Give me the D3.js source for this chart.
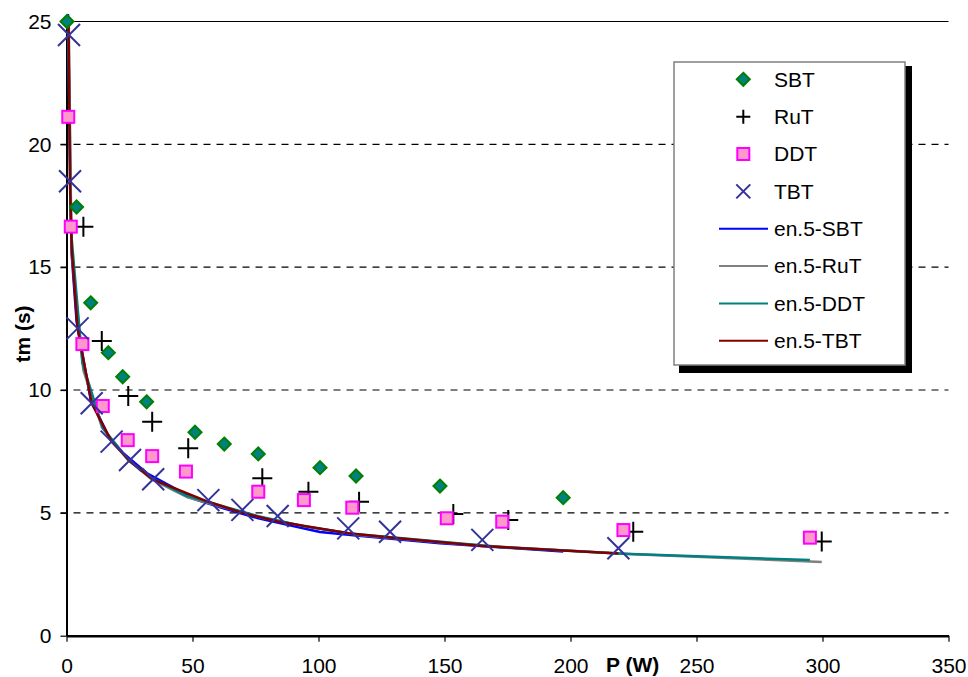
<!DOCTYPE html>
<html><head><meta charset="utf-8">
<script src="https://cdn.jsdelivr.net/npm/d3@7"></script>
<style>
html,body{margin:0;padding:0;background:#fff;}
svg{display:block;font-family:"Liberation Sans",Arial,sans-serif;}
</style></head><body>
<svg id="chart" width="968" height="677"></svg>
<script>
// ---- data ----
const sbtX = [0.2, 4.0, 9.6, 16.6, 22.3, 31.8, 51.0, 62.6, 76.1, 100.6, 114.9, 148.2, 197.1];
const sbtY = [25.0, 17.45, 13.55, 11.52, 10.54, 9.52, 8.28, 7.80, 7.40, 6.84, 6.50, 6.09, 5.62];

const rutX = [6.7, 14.0, 24.5, 34.0, 48.3, 77.7, 96.0, 116.1, 153.5, 175.3, 224.9, 299.7];
const rutY = [16.65, 12.0, 9.76, 8.71, 7.63, 6.41, 5.86, 5.45, 4.95, 4.71, 4.23, 3.83];

const ddtX = [0.7, 1.7, 6.3, 14.4, 24.3, 34.0, 47.4, 76.1, 94.2, 113.4, 150.9, 172.9, 221.0, 295.0];
const ddtY = [21.12, 16.65, 11.87, 9.35, 7.96, 7.31, 6.68, 5.86, 5.52, 5.21, 4.78, 4.64, 4.30, 3.99];

const tbtX = [1.0, 1.4, 4.4, 10.0, 17.9, 25.2, 34.4, 56.3, 69.8, 83.8, 111.8, 128.4, 165.0, 219.0];
const tbtY = [24.45, 18.5, 12.51, 9.46, 7.90, 7.15, 6.37, 5.52, 5.12, 4.87, 4.37, 4.23, 3.90, 3.56];

// model curves "en.5"
const enSbtX = [0.6, 2.0, 4.0, 9.6, 16.6, 22.3, 31.8, 51.0, 62.6, 76.1, 100.6, 114.9, 148.2, 197.1];
const enSbtY = [25.3, 15.6, 12.8, 9.6, 8.15, 7.45, 6.62, 5.55, 5.18, 4.78, 4.22, 4.08, 3.76, 3.43];

const enRutX = [0.9, 2.0, 6.7, 14.0, 24.5, 34.0, 48.3, 77.7, 96.0, 116.1, 153.5, 175.3, 224.9, 299.7];
const enRutY = [25.0, 15.6, 10.8, 8.5, 7.15, 6.35, 5.62, 4.80, 4.42, 4.10, 3.75, 3.60, 3.32, 3.00];

const enDdtX = [0.7, 1.7, 6.3, 14.4, 24.3, 34.0, 47.4, 76.1, 94.2, 113.4, 150.9, 172.9, 221.0, 295.0];
const enDdtY = [24.6, 16.6, 11.1, 8.45, 7.17, 6.40, 5.70, 4.86, 4.46, 4.15, 3.80, 3.60, 3.34, 3.08];

const enTbtX = [0.8, 1.4, 2.1, 4.4, 10.0, 17.9, 25.2, 34.4, 56.3, 69.8, 83.8, 111.8, 128.4, 165.0, 219.0];
const enTbtY = [25.0, 18.3, 15.7, 12.5, 9.45, 7.90, 7.10, 6.35, 5.45, 5.00, 4.65, 4.17, 4.00, 3.65, 3.35];

const xTicks = [0, 50, 100, 150, 200, 250, 300, 350];
const yTicks = [0, 5, 10, 15, 20, 25];
const gridValues = [5, 10, 15, 20];

const xTitle = "P (W)";
const yTitle = "tm (s)";

const scatterSeries = [
  {name: "SBT", xs: sbtX, ys: sbtY, type: "diamond"},
  {name: "RuT", xs: rutX, ys: rutY, type: "plus"},
  {name: "DDT", xs: ddtX, ys: ddtY, type: "square"},
  {name: "TBT", xs: tbtX, ys: tbtY, type: "cross"}
];
const lineSeries = [
  {name: "en.5-SBT", xs: enSbtX, ys: enSbtY, color: "#0000ff"},
  {name: "en.5-RuT", xs: enRutX, ys: enRutY, color: "#808080"},
  {name: "en.5-DDT", xs: enDdtX, ys: enDdtY, color: "#008080"},
  {name: "en.5-TBT", xs: enTbtX, ys: enTbtY, color: "#800000"}
];

// ---- drawing ----
const svg = d3.select("#chart");
const x = d3.scaleLinear().domain([0, 350]).range([66.5, 948.5]);
const y = d3.scaleLinear().domain([0, 25]).range([635.7, 21.5]);

// grid
svg.append("g").selectAll("line").data(gridValues).join("line")
  .attr("x1", x(0) - 6).attr("x2", x(350))
  .attr("y1", d => y(d)).attr("y2", d => y(d))
  .attr("stroke", "#000").attr("stroke-width", 1.2)
  .attr("stroke-dasharray", "7,6");
// top border line
svg.append("line").attr("x1", x(0)).attr("x2", x(350))
  .attr("y1", y(25)).attr("y2", y(25)).attr("stroke", "#000").attr("stroke-width", 1.2);

// axes
const fontSize = 21;
const gx = svg.append("g").attr("transform", `translate(0,${y(0)})`)
  .call(d3.axisBottom(x).tickValues(xTicks).tickSize(6).tickPadding(16).tickSizeOuter(0));
const gy = svg.append("g").attr("transform", `translate(${x(0)},0)`)
  .call(d3.axisLeft(y).tickValues(yTicks).tickSize(6).tickPadding(9).tickSizeOuter(0));
[gx, gy].forEach(g => {
  g.select(".domain").attr("stroke", "#000").attr("stroke-width", 2);
  g.selectAll(".tick line").attr("stroke", "#000").attr("stroke-width", 1.2);
  g.selectAll(".tick text").attr("font-size", fontSize).attr("fill", "#000")
    .attr("font-family", "Liberation Sans, Arial, sans-serif");
});
gx.select(".domain").attr("stroke-width", 2.5);

// axis titles
svg.append("text").attr("x", 606).attr("y", 672)
  .attr("font-size", fontSize).attr("font-weight", "bold").text(xTitle);
svg.append("text").attr("transform", "translate(30,334) rotate(-90)")
  .attr("text-anchor", "middle").attr("font-size", fontSize).attr("font-weight", "bold").text(yTitle);

// model lines
const lineGen = d3.line().x(d => x(d[0])).y(d => y(d[1]));
lineSeries.forEach(s => {
  const pts = s.xs.map((v, i) => [v, s.ys[i]]);
  svg.append("path").datum(pts).attr("d", lineGen)
    .attr("fill", "none").attr("stroke", s.color).attr("stroke-width", 2.5)
    .attr("stroke-linejoin", "round");
});

// markers
function drawMarker(g, type, cx, cy, big) {
  if (type === "diamond") {
    const r = 6.5;
    g.append("path").attr("d", `M${cx},${cy - r}L${cx + r},${cy}L${cx},${cy + r}L${cx - r},${cy}Z`)
      .attr("fill", "#008080").attr("stroke", "#008000").attr("stroke-width", 2);
  } else if (type === "square") {
    const h = 6;
    g.append("rect").attr("x", cx - h).attr("y", cy - h).attr("width", 2 * h).attr("height", 2 * h)
      .attr("fill", "#ff99cc").attr("stroke", "#ff00ff").attr("stroke-width", 2);
  } else if (type === "plus") {
    const a = big ? 10 : 7;
    g.append("path").attr("d", `M${cx - a},${cy}H${cx + a}M${cx},${cy - a}V${cy + a}`)
      .attr("stroke", "#000").attr("stroke-width", 2).attr("fill", "none");
  } else if (type === "cross") {
    const a = big ? 11 : 7;
    g.append("path").attr("d", `M${cx - a},${cy - a}L${cx + a},${cy + a}M${cx - a},${cy + a}L${cx + a},${cy - a}`)
      .attr("stroke", "#333399").attr("stroke-width", 2).attr("fill", "none");
  }
}
const mg = svg.append("g");
scatterSeries.forEach(s => {
  s.xs.forEach((v, i) => drawMarker(mg, s.type, x(v), y(s.ys[i]), true));
});

// legend
const lg = svg.append("g");
const lx0 = 674, ly0 = 62, lw = 231, lh = 303;
lg.append("rect").attr("x", lx0 + 5).attr("y", ly0 + 4).attr("width", lw + 2).attr("height", lh + 4).attr("fill", "#000");
lg.append("rect").attr("x", lx0).attr("y", ly0).attr("width", lw).attr("height", lh)
  .attr("fill", "#fff").attr("stroke", "#808080").attr("stroke-width", 1.5);
const rowY0 = 79.3, rowStep = 37.35;
const entries = scatterSeries.map(s => ({name: s.name, marker: s.type}))
  .concat(lineSeries.map(s => ({name: s.name, color: s.color})));
entries.forEach((e, i) => {
  const cy = rowY0 + i * rowStep;
  if (e.marker) drawMarker(lg, e.marker, 743.3, cy, false);
  else lg.append("line").attr("x1", 719).attr("x2", 768).attr("y1", cy).attr("y2", cy)
    .attr("stroke", e.color).attr("stroke-width", 2);
  lg.append("text").attr("x", 774).attr("y", cy).attr("dy", "0.35em")
    .attr("font-size", fontSize).attr("fill", "#000").text(e.name);
});
</script>
</body></html>
